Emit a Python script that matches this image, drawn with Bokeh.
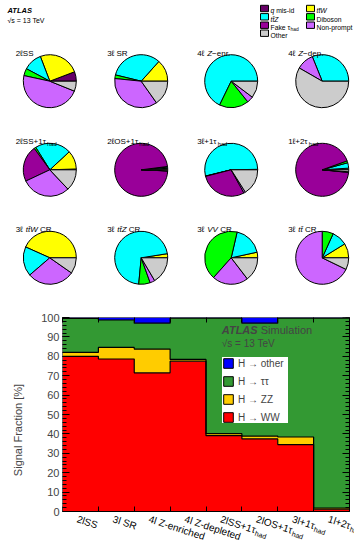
import numpy as np
from bokeh.plotting import figure
from bokeh.models import (Range1d, FixedTicker, LinearAxis, Label, Legend, LegendItem,
                          ColumnDataSource, CustomJSTickFormatter)
from bokeh.core.properties import value
from bokeh.embed import file_html
from bokeh.resources import INLINE

FONT = "Liberation Sans"

# ---------------- data: background composition pies ----------------
processes = ["q mis-id", "ttW", "ttZ", "Diboson", "Fake tau_had", "Non-prompt", "Other"]
legend_labels = ["*q* mis-id", "*tt̄W*", "*tt̄Z*", "Diboson", "Fake τ_had", "Non-prompt", "Other"]
process_colors = ["#660066", "#FFFF00", "#00FFFF", "#00FF00", "#990099", "#CC66FF", "#CCCCCC"]

pie_titles = ["2ℓSS", "3ℓ SR", "4ℓ *Z*−enr.", "4ℓ *Z*−dep.",
              "2ℓSS+1τ_had", "2ℓOS+1τ_had", "3ℓ+1τ_had", "1ℓ+2τ_had",
              "3ℓ *tt̄W* CR", "3ℓ *tt̄Z* CR", "3ℓ *VV* CR", "3ℓ *tt̄* CR"]

# fractions [%] in process order
frac_2lSS = [5.8, 25.0, 11.4, 4.4, 0.0, 47.3, 6.1]
frac_3lSR = [0.0, 13.4, 32.8, 2.2, 0.0, 36.4, 15.2]
frac_4lZenr = [0.0, 0.0, 67.8, 18.0, 0.0, 3.9, 10.3]
frac_4lZdep = [0.0, 0.0, 31.1, 0.0, 0.0, 10.6, 58.3]
frac_2lSS1tau = [0.5, 11.4, 22.0, 1.1, 22.0, 30.0, 13.0]
frac_2lOS1tau = [0.4, 0.5, 0.8, 0.3, 97.3, 0.1, 0.6]
frac_3l1tau = [0.0, 0.3, 53.5, 0.2, 29.0, 1.0, 16.0]
frac_1l2tau = [0.3, 0.7, 3.3, 1.2, 92.9, 0.4, 1.2]
frac_ttWCR = [0.0, 43.3, 18.0, 0.0, 0.0, 29.0, 9.7]
frac_ttZCR = [0.0, 2.5, 71.0, 7.0, 0.0, 3.0, 16.5]
frac_VVCR = [0.0, 3.4, 18.0, 42.0, 0.0, 22.0, 14.6]
frac_ttbarCR = [0.0, 8.8, 9.4, 6.8, 0.0, 67.8, 7.2]
pie_fracs = [frac_2lSS, frac_3lSR, frac_4lZenr, frac_4lZdep,
             frac_2lSS1tau, frac_2lOS1tau, frac_3l1tau, frac_1l2tau,
             frac_ttWCR, frac_ttZCR, frac_VVCR, frac_ttbarCR]

# ---------------- data: signal fractions ----------------
bar_labels = ["2lSS", "3l SR", "4l Z-enriched", "4l Z-depleted",
              "2lSS+1τ_had", "2lOS+1τ_had", "3l+1τ_had", "1l+2τ_had"]
h_ww = [80.0, 78.6, 71.5, 77.5, 39.1, 37.4, 34.5, 1.2]
h_zz = [2.0, 6.0, 12.2, 0.9, 1.0, 1.5, 3.9, 0.6]
h_tautau = [17.6, 14.1, 13.4, 21.3, 59.6, 58.2, 61.3, 97.9]
h_other = [0.4, 1.3, 2.9, 0.3, 0.3, 2.9, 0.3, 0.3]
decay_names = ["H → WW", "H → ZZ", "H → ττ", "H → other"]
decay_colors = ["#FF0000", "#FFCC00", "#339933", "#0000FF"]
y_ticks = list(range(0, 101, 10))
y_minor = list(range(0, 101, 2))

# ---------------- helpers ----------------
CW = {' ': 278, '+': 584, '-': 333, '−': 584, '.': 278, '[': 278, ']': 278, '%': 889, '=': 584,
      '→': 1000, '√': 549, 'ℓ': 420, 'τ': 450, '\u0304': 0,
      'A': 667, 'C': 722, 'D': 722, 'F': 611, 'H': 722, 'L': 556, 'N': 722, 'O': 778, 'R': 722,
      'S': 667, 'T': 611, 'V': 667, 'W': 944, 'Z': 611,
      'a': 556, 'b': 556, 'c': 500, 'd': 556, 'e': 556, 'f': 278, 'g': 556, 'h': 556, 'i': 222,
      'k': 500, 'l': 222, 'm': 833, 'n': 556, 'o': 556, 'p': 556, 'q': 556, 'r': 333, 's': 500,
      't': 278, 'u': 556, 'v': 500, 'w': 722, 'x': 500, 'y': 500, 'z': 500}
for d in "0123456789":
    CW[d] = 556


def tw(s, size):
    return sum(CW.get(ch, 556) for ch in s) * size / 1000.0


W = 354
H1 = 286
H2 = 256


def X(px):
    return px


def Y(py):
    return H1 - py


def draw_rich(p, x_page, yc_page, s, size, color="black"):
    if "_" in s:
        main, sub = s.split("_", 1)
    else:
        main, sub = s, None
    x = x_page
    base = yc_page + 0.35 * size
    for k, part in enumerate(main.split("*")):
        if not part:
            continue
        stripped = part.lstrip(" ")
        x += tw(part[:len(part) - len(stripped)], size)
        if not stripped:
            continue
        style = "italic" if k % 2 == 1 else "normal"
        p.text(x=[X(x)], y=[Y(base)], text=[stripped], text_font=value(FONT),
               text_font_size=f"{size}px", text_font_style=style,
               text_baseline="alphabetic", text_align="left", text_color=color)
        x += tw(stripped, size)
    if sub:
        ss = round(size * 0.72, 2)
        p.text(x=[X(x)], y=[Y(base + 0.3 * size)], text=[sub], text_font=value(FONT),
               text_font_size=f"{ss}px", text_baseline="alphabetic", text_align="left",
               text_color=color)


# ---------------- top figure: pies ----------------
p1 = figure(width=W, height=H1, x_range=Range1d(0, W), y_range=Range1d(0, H1),
            output_backend="svg", toolbar_location=None, x_axis_type=None, y_axis_type=None,
            min_border=0)
p1.grid.visible = False
p1.outline_line_color = None

# header
p1.text(x=[X(7)], y=[Y(10)], text=["ATLAS"], text_font=value(FONT), text_font_size="7.5px",
        text_font_style="bold italic", text_baseline="middle")
p1.text(x=[X(7)], y=[Y(20)], text=["√s = 13 TeV"], text_font=value(FONT), text_font_size="7px",
        text_baseline="middle")

# legend (2 columns, row-major)
leg_col_x = [260, 306]
leg_row_y = [8, 16.3, 24.7, 32.7]
for i, (lab, colr) in enumerate(zip(legend_labels, process_colors)):
    r, c = divmod(i, 2)
    bx, by = leg_col_x[c], leg_row_y[r]
    p1.quad(left=[X(bx)], right=[X(bx + 8)], top=[Y(by - 3.2)], bottom=[Y(by + 3.2)],
            fill_color=colr, line_color="black", line_width=1)
    draw_rich(p1, bx + 10, by, lab, 6.8)

pie_cx = [49.3, 140.7, 230.7, 321.7]
pie_cy = [80.7, 169.3, 257.3]
pie_r = 26.5

for idx, (fr, title) in enumerate(zip(pie_fracs, pie_titles)):
    row, col = divmod(idx, 4)
    cx, cy = pie_cx[col], pie_cy[row]
    fr = np.array(fr, dtype=float)
    ang = np.concatenate([[0.0], np.cumsum(fr) / fr.sum() * 2 * np.pi])
    keep = fr > 0
    n = int(keep.sum())
    src = ColumnDataSource(dict(x=[X(cx)] * n, y=[Y(cy)] * n,
                                s=list(ang[:-1][keep]), e=list(ang[1:][keep]),
                                c=list(np.array(process_colors)[keep])))
    p1.wedge(x="x", y="y", radius=pie_r, start_angle="s", end_angle="e", fill_color="c",
             line_color="black", line_width=1, source=src)
    draw_rich(p1, cx - 34, cy - 31, title, 8)

# ---------------- bottom figure: signal fractions ----------------
nb = len(bar_labels)
edges = np.arange(nb + 1, dtype=float)
PPX = 287.0 / nb      # px per bin
PPY = 194.0 / 100.0   # px per percent
p2 = figure(width=W, height=H2, x_range=Range1d(0, nb + 5.0 / PPX),
            y_range=Range1d(-31.0 / PPY, 100), x_axis_location=None,
            output_backend="svg", toolbar_location=None,
            min_border_left=62, min_border_right=0, min_border_top=31, min_border_bottom=0)
p2.grid.visible = False
p2.outline_line_color = None

stack = [h_ww, h_zz, h_tautau, h_other]
bottom = np.zeros(nb)
levels = []
xs_step = np.repeat(edges, 2)[1:-1]
for vals, colr in zip(stack, decay_colors):
    top = bottom + np.array(vals)
    xs = np.concatenate([xs_step, xs_step[::-1]])
    ys = np.concatenate([np.repeat(top, 2), np.repeat(bottom, 2)[::-1]])
    p2.patch(xs, ys, fill_color=colr, line_color=None)
    levels.append((bottom.copy(), top.copy()))
    bottom = top
for lev in levels[:-1]:
    p2.line(xs_step, np.repeat(lev[1], 2), line_color="black", line_width=1.2)
# frame box of the histogram
p2.quad(left=[edges[0]], right=[edges[-1]], bottom=[0], top=[100], fill_color=None,
        line_color="black", line_width=1)

# axes
ya = p2.yaxis[0]
ya.ticker = FixedTicker(ticks=y_ticks, minor_ticks=y_minor)
ya.axis_line_color = None
ya.major_tick_in = 7
ya.major_tick_out = 0
ya.minor_tick_in = 4
ya.minor_tick_out = 0
ya.major_label_text_font = FONT
ya.major_label_text_font_size = "11px"
ya.major_label_standoff = 3
ya.axis_label = "Signal Fraction [%]"
ya.axis_label_text_font = FONT
ya.axis_label_text_font_size = "11px"
ya.axis_label_text_font_style = "normal"
ya.axis_label_standoff = 14

xb = LinearAxis(ticker=FixedTicker(ticks=[], minor_ticks=list(edges)), fixed_location=0,
                axis_line_color=None, major_tick_in=0, major_tick_out=0,
                minor_tick_in=5, minor_tick_out=0)
p2.add_layout(xb, "below")
xt = LinearAxis(ticker=FixedTicker(ticks=[], minor_ticks=list(edges)),
                axis_line_color=None, major_tick_in=0, major_tick_out=0,
                minor_tick_in=5, minor_tick_out=0)
p2.add_layout(xt, "above")
yr = LinearAxis(ticker=FixedTicker(ticks=y_ticks, minor_ticks=y_minor), fixed_location=nb,
                formatter=CustomJSTickFormatter(code="return ''"), axis_line_color=None,
                major_tick_in=7, major_tick_out=0, minor_tick_in=4, minor_tick_out=0,
                major_label_standoff=0, major_label_text_font_size="1px")
p2.add_layout(yr, "right")

# x labels (rotated text glyphs below the axis) with subscripts
ang_deg = 18.0
LBL = 10.0
SUB = 7.0
ca, sa = np.cos(np.radians(ang_deg)), np.sin(np.radians(ang_deg))
for i, lab in enumerate(bar_labels):
    if "_" in lab:
        main, sub = lab.split("_", 1)
    else:
        main, sub = lab, None
    xc = edges[i] + 0.5 - 0.04
    yc = -2.0 / PPY
    p2.text(x=[xc], y=[yc], text=[main], angle=-ang_deg, angle_units="deg",
            text_align="left", text_baseline="top", text_font=value(FONT),
            text_font_size=f"{LBL}px")
    if sub:
        w = tw(main, LBL)
        perp = 0.905 * LBL + 0.25 * LBL - 0.905 * SUB
        dx = w * ca - perp * sa
        ddown = w * sa + perp * ca
        p2.text(x=[xc + dx / PPX], y=[yc - ddown / PPY], text=[sub], angle=-ang_deg,
                angle_units="deg", text_align="left", text_baseline="top",
                text_font=value(FONT), text_font_size=f"{SUB}px")

# ATLAS Simulation labels
p2.add_layout(Label(x=4.44, y=93.3, text="ATLAS", text_font=FONT, text_font_size="11px",
                    text_font_style="bold italic", text_baseline="middle"))
p2.add_layout(Label(x=4.44, y=93.3, x_offset=39, text="Simulation", text_font=FONT,
                    text_font_size="11px", text_baseline="middle"))
p2.add_layout(Label(x=4.44, y=86.6, text="√s = 13 TeV", text_font=FONT,
                    text_font_size="10px", text_baseline="middle"))

# legend (swatches from hidden copies of the stack with black outlines)
leg_renderers = []
for (b, t), colr in zip(levels, decay_colors):
    leg_renderers.append(p2.quad(left=edges[:-1], right=edges[1:], bottom=b, top=t,
                                 fill_color=colr, line_color="black", line_width=1,
                                 visible=False))
items = [LegendItem(label=decay_names[k], renderers=[leg_renderers[k]]) for k in [3, 2, 1, 0]]
legend = Legend(items=items, location=(160, 119), background_fill_color="white",
                background_fill_alpha=1.0, border_line_color=None,
                label_text_font=FONT, label_text_font_size="10px",
                glyph_width=12, glyph_height=12, spacing=6, padding=4, margin=0,
                label_standoff=4, label_height=12, label_width=50, inactive_fill_alpha=0.0)
p2.add_layout(legend)

open("out.html", "w").write(file_html([p1, p2], INLINE))
